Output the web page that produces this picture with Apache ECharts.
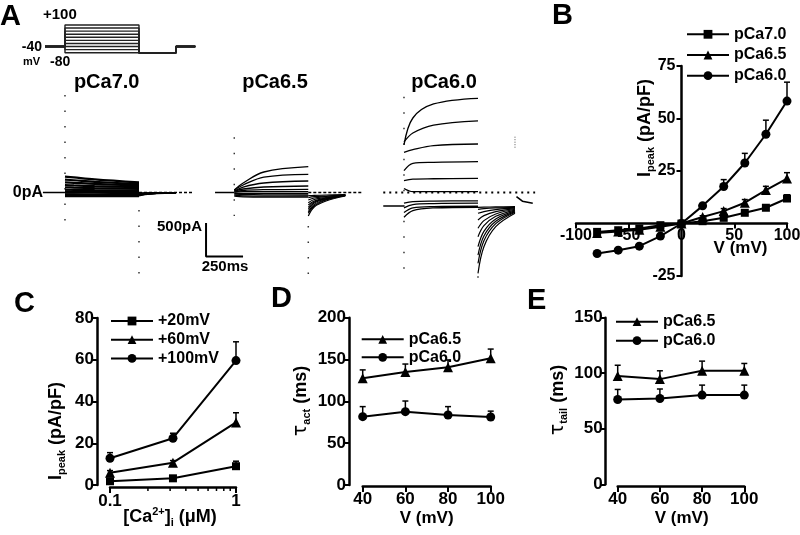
<!DOCTYPE html>
<html><head><meta charset="utf-8">
<script src="https://cdn.jsdelivr.net/npm/echarts@6/dist/echarts.min.js"></script>
<style>html,body{margin:0;padding:0;background:#fff}#c{width:800px;height:535px}</style>
</head><body><div id="c"></div>
<script>
// ---------- Panel A: voltage protocol ----------
const protocolLevels = [-80,-60,-40,-20,0,20,40,60,80,100];
const protocolTimes = [-135, 0, 500, 750, 880];
const holdingMv = -40, tailMv = -80;

// ---------- Panel A: current traces (pA) ----------
const traceStepTimes = [0, 60, 200, 500];
const traceTailTimes = [500, 540, 620, 750];
// rows: -80 ... +100 mV
const pCa70Step = [[-55,-55,-55,-55],[-28,-27,-26,-25],[-2,-1,0,0],[18,16,13,10],[42,40,35,30],
  [78,74,66,55],[112,106,95,80],[152,145,128,105],[192,183,160,125],[238,225,195,150]];
const pCa70Tail = [[-8,-6,-5,-4],[-12,-9,-6,-4],[-15,-11,-7,-4],[-20,-14,-9,-5],[-25,-17,-10,-5],
  [-30,-20,-12,-6],[-35,-23,-13,-6],[-40,-26,-14,-7],[-45,-29,-15,-7],[-50,-32,-16,-8]];
const pCa65Step = [[-55,-65,-70,-70],[-40,-50,-55,-55],[-25,-30,-35,-37],[-12,-12,-12,-12],[7,12,12,12],
  [7,30,42,48],[22,52,82,97],[22,82,142,172],[37,112,231,272],[37,142,306,385]];
const pCa65Tail = [[-48,-42,-37,-33],[-78,-63,-52,-37],[-112,-82,-60,-37],[-152,-104,-75,-37],[-187,-127,-82,-37],
  [-221,-142,-90,-40],[-251,-157,-97,-42],[-287,-179,-104,-45],[-310,-197,-112,-48],[-351,-216,-127,-52]];
const pCa60Step = [[-370,-270,-230,-220],[-300,-230,-210,-205],[-230,-180,-165,-160],[-160,-135,-128,-125],[60,12,12,12],
  [176,200,205,212],[325,436,450,460],[600,640,700,724],[754,888,1007,1070],[709,1112,1321,1406]];
const pCa60Tail = [[-221,-218,-215,-212],[-251,-240,-230,-222],[-310,-285,-255,-230],[-410,-345,-285,-240],[-534,-420,-320,-250],
  [-660,-495,-355,-262],[-809,-580,-395,-275],[-933,-650,-430,-285],[-1057,-720,-465,-295],[-1206,-810,-510,-310]];
const pCa70Hold = 0, pCa65Hold = 0, pCa60Hold = -201;
const pCa60AfterT = [760, 800, 870], pCa60AfterI = [-60, -130, -160];
const scaleBarT = [953, 1203], scaleBarI = [-455, -955];

// ---------- Panel B: I-V ----------
const ivVoltage = [-80,-60,-40,-20,0,20,40,60,80,100];
const ivPCa70 = [-4,-3.2,-2.4,-0.8,0,1.1,2.7,5.1,7.5,11.9];
const ivPCa65 = [-4.5,-3.8,-3,-1.5,0,3.1,5.9,9.9,15.9,21.4];
const ivPCa60 = [-14.3,-12.7,-10.8,-6,0,8.4,17.6,28.8,42.5,58.3];
const ivErr70 = [0.5,0.5,0.4,0.3,0,0.4,0.6,1,1.3,1.8];
const ivErr65 = [0.6,0.6,0.5,0.4,0,0.6,1.2,1.5,1.8,2.8];
const ivErr60 = [1.2,1.2,1.1,1,0,1.2,3.3,4.6,6.7,9];

// ---------- Panel C ----------
const caConc = [0.1, 0.316, 1];
const ca20mV = [1.8, 3.2, 9], ca20Err = [1, 0.8, 2.4];
const ca60mV = [5.9, 10.7, 30], ca60Err = [1, 1, 4.6];
const ca100mV = [12.8, 22.4, 59.6], ca100Err = [2.7, 2.4, 9];
const caMinorTicks = [0.2,0.3,0.4,0.5,0.6,0.7,0.8,0.9];

// ---------- Panels D, E ----------
const tauV = [40, 60, 80, 100];
const tauAct65 = [127.6,135,140.8,151.5], tauAct65Err = [10,9.6,8.7,11];
const tauAct60 = [81.7,87.7,83.7,81.3], tauAct60Err = [12,12.7,10,7];
const tauTail65 = [97.4,94.7,102.2,102.2], tauTail65Err = [9.8,7.5,8.7,6.6];
const tauTail60 = [76.4,77.3,80.3,80.3], tauTail60Err = [9,8.5,9,9];

// ================= build =================
const FONT = '"Liberation Sans", Arial, sans-serif';
const K = '#000';
const series = [];
const grids = [
  {left:41.3, top:21.9, width:208.7, height:33.9},   // 0 protocol
  {left:41.3, top:58.5, width:208.7, height:234.5},  // 1 pCa7.0
  {left:210.6, top:58.5, width:156.9, height:234.5}, // 2 pCa6.5
  {left:380.3, top:58.5, width:156.9, height:234.5}, // 3 pCa6.0
  {left:576, top:66, width:211, height:210},         // 4 B
  {left:110, top:318, width:126, height:167},        // 5 C
  {left:362.7, top:317.7, width:128, height:167.3},  // 6 D
  {left:617.7, top:317.7, width:126.6, height:166.6} // 7 E
].map(g => Object.assign({outerBoundsMode:'none', containLabel:false}, g));

const xAxes = [], yAxes = [];
const hidden = (gi, min, max) => ({gridIndex:gi, type:'value', show:false, min, max});
xAxes.push(hidden(0,-160,1250)); yAxes.push(hidden(0,-100,120));
xAxes.push(hidden(1,-160,1250)); yAxes.push(hidden(1,-1500,2000));
xAxes.push(hidden(2,-160,900));  yAxes.push(hidden(2,-1500,2000));
xAxes.push(hidden(3,-160,900));  yAxes.push(hidden(3,-1500,2000));

const lblStyle = (size, margin) => ({color:K, fontSize:size, fontWeight:'bold', fontFamily:FONT, margin});
const axLine = () => ({show:true, onZero:false, lineStyle:{color:K, width:2.5}});
const axTick = (len) => ({show:true, length:len, lineStyle:{color:K, width:2}});

// B: axes cross at zero (placed with offsets derived from the axis ranges)
const bX = [-100, 100], bY = [-25, 75];
const gB = grids[4];
const bXOffset = -gB.height * (0 - bY[0]) / (bY[1] - bY[0]);
const bYOffset = -gB.width * (0 - bX[0]) / (bX[1] - bX[0]);
xAxes.push({gridIndex:4, type:'value', min:bX[0], max:bX[1], interval:50, offset:bXOffset, axisLine:axLine(),
  axisTick:axTick(5), axisLabel:lblStyle(16,4), splitLine:{show:false}});
yAxes.push({gridIndex:4, type:'value', min:bY[0], max:bY[1], interval:25, offset:bYOffset, axisLine:axLine(),
  axisTick:axTick(5), axisLabel:Object.assign(lblStyle(16,6), {formatter:v => v === 0 ? '' : String(v)}), splitLine:{show:false}});
// C
xAxes.push({gridIndex:5, type:'log', logBase:10, min:0.1, max:1, offset:2, axisLine:axLine(),
  axisTick:axTick(6), axisLabel:Object.assign(lblStyle(17,6), {formatter:v => String(v)}), splitLine:{show:false}, minorTick:{show:false}});
yAxes.push({gridIndex:5, type:'value', min:0, max:80, interval:20, offset:13, axisLine:axLine(),
  axisTick:axTick(5), axisLabel:lblStyle(17,3), splitLine:{show:false}});
// D
xAxes.push({gridIndex:6, type:'value', min:40, max:100, interval:20, offset:1, axisLine:axLine(),
  axisTick:axTick(6), axisLabel:lblStyle(17,5), splitLine:{show:false}});
yAxes.push({gridIndex:6, type:'value', min:0, max:200, interval:50, offset:13.7, axisLine:axLine(),
  axisTick:axTick(5), axisLabel:lblStyle(17,3), splitLine:{show:false}});
// E
xAxes.push({gridIndex:7, type:'value', min:40, max:100, interval:20, offset:1.7, axisLine:axLine(),
  axisTick:axTick(6), axisLabel:lblStyle(17,5), splitLine:{show:false}});
yAxes.push({gridIndex:7, type:'value', min:0, max:150, interval:50, offset:12, axisLine:axLine(),
  axisTick:axTick(5), axisLabel:lblStyle(17,3), splitLine:{show:false}});

// --- protocol
protocolLevels.forEach(v => {
  const [t0, t1, t2, t3, t4] = protocolTimes;
  series.push({type:'line', xAxisIndex:0, yAxisIndex:0, silent:true, showSymbol:false, symbol:'none',
    lineStyle:{color:'#222', width:1.4},
    data:[[t0,holdingMv],[t1,holdingMv],[t1,v],[t2,v],[t2,tailMv],[t3,tailMv],[t3,holdingMv],[t4,holdingMv]]});
});

// --- traces
function plainLine(gi, data, width, dash, color) {
  series.push({type:'line', xAxisIndex:gi, yAxisIndex:gi, silent:true, symbol:'none', z:2,
    lineStyle:{color:color||K, width:width, type:dash||'solid'}, data});
}
function traceSet(gi, steps, tails, width) {
  steps.forEach((row, i) => {
    series.push({type:'line', xAxisIndex:gi, yAxisIndex:gi, silent:true, symbol:'none', smooth:0.35,
      lineStyle:{color:K, width}, data: traceStepTimes.map((t, j) => [t, row[j]])});
    series.push({type:'line', xAxisIndex:gi, yAxisIndex:gi, silent:true, symbol:'none', smooth:0.35,
      lineStyle:{color:K, width:1.2}, data: traceTailTimes.map((t, j) => [t, tails[i][j]])});
  });
}
traceSet(1, pCa70Step, pCa70Tail, 2.2);
traceSet(2, pCa65Step, pCa65Tail, 1.3);
traceSet(3, pCa60Step, pCa60Tail, 1.3);
// baselines
plainLine(1, [[-149,pCa70Hold],[0,pCa70Hold]], 1.6);
plainLine(1, [[500,pCa70Hold],[870,pCa70Hold]], 1.6, [3,2]);
plainLine(2, [[-130,pCa65Hold],[0,pCa65Hold]], 1.6);
plainLine(2, [[500,pCa65Hold],[870,pCa65Hold]], 1.6, [3,2]);
plainLine(3, [[-140,pCa60Hold],[0,pCa60Hold]], 1.6);
plainLine(3, [[-140,0],[886,0]], 2, [2,4]);
plainLine(3, pCa60AfterT.map((t,i)=>[t,pCa60AfterI[i]]), 1.6);
// sparse dotted verticals at step on/off
const sparse = [1.5, 14];
plainLine(1, [[0,1455],[0,-470]], 1.5, sparse, '#333');
plainLine(1, [[500,-260],[500,-1350]], 1.5, sparse, '#333');
plainLine(2, [[0,824],[0,-350]], 1.5, sparse, '#333');
plainLine(2, [[500,-500],[500,-1350]], 1.5, sparse, '#333');
plainLine(3, [[0,1430],[0,-1255]], 1.5, sparse, '#333');
plainLine(3, [[500,-1250],[500,-1380]], 1.5, sparse, '#333');
plainLine(3, [[750,833],[750,660]], 1, [1,1.5], '#555');
// scale bar
plainLine(1, [[scaleBarT[0],scaleBarI[0]],[scaleBarT[0],scaleBarI[1]],[scaleBarT[1],scaleBarI[1]]], 2);

// --- marker series helper
const SYM = {sq:['rect',8], tri:['triangle',10], ci:['circle',9]};
function markerLine(gi, name, xs, ys, sym) {
  series.push({type:'line', name, xAxisIndex:gi, yAxisIndex:gi, silent:true, z:4,
    symbol:SYM[sym][0], symbolSize:SYM[sym][1], showSymbol:true,
    itemStyle:{color:K, borderWidth:0}, lineStyle:{color:K, width:2},
    data: xs.map((x,i)=>[x, ys[i]])});
}
function errBars(gi, xs, ys, es) {
  series.push({type:'custom', xAxisIndex:gi, yAxisIndex:gi, silent:true, z:3, clip:false,
    encode:{x:0, y:1}, data: xs.map((x,i)=>[x, ys[i], es[i]]),
    renderItem: (p, api) => {
      const x = api.value(0), y = api.value(1), e = api.value(2);
      if (!e) return null;
      const d = y < 0 ? -1 : 1;
      const a = api.coord([x, y]), b = api.coord([x, y + d*e]);
      const st = {stroke:K, lineWidth:1.5};
      return {type:'group', children:[
        {type:'line', shape:{x1:a[0], y1:a[1], x2:b[0], y2:b[1]}, style:st},
        {type:'line', shape:{x1:b[0]-3, y1:b[1], x2:b[0]+3, y2:b[1]}, style:st}]};
    }});
}
// B
errBars(4, ivVoltage, ivPCa70, ivErr70);
errBars(4, ivVoltage, ivPCa65, ivErr65);
errBars(4, ivVoltage, ivPCa60, ivErr60);
markerLine(4, 'pCa7.0', ivVoltage, ivPCa70, 'sq');
markerLine(4, 'pCa6.5', ivVoltage, ivPCa65, 'tri');
markerLine(4, 'pCa6.0', ivVoltage, ivPCa60, 'ci');
// C
errBars(5, caConc, ca20mV, ca20Err);
errBars(5, caConc, ca60mV, ca60Err);
errBars(5, caConc, ca100mV, ca100Err);
markerLine(5, '+20mV', caConc, ca20mV, 'sq');
markerLine(5, '+60mV', caConc, ca60mV, 'tri');
markerLine(5, '+100mV', caConc, ca100mV, 'ci');
series.push({type:'custom', xAxisIndex:5, yAxisIndex:5, silent:true, clip:false, encode:{x:0, y:1},
  data: caMinorTicks.map(v => [v, 0]),
  renderItem: (p, api) => {
    const c = api.coord([api.value(0), 0]);
    return {type:'line', shape:{x1:c[0], y1:c[1]+2, x2:c[0], y2:c[1]+6}, style:{stroke:K, lineWidth:1.5}};
  }});
// D
errBars(6, tauV, tauAct65, tauAct65Err);
errBars(6, tauV, tauAct60, tauAct60Err);
markerLine(6, 'pCa6.5', tauV, tauAct65, 'tri');
markerLine(6, 'pCa6.0', tauV, tauAct60, 'ci');
// E
errBars(7, tauV, tauTail65, tauTail65Err);
errBars(7, tauV, tauTail60, tauTail60Err);
markerLine(7, 'pCa6.5', tauV, tauTail65, 'tri');
markerLine(7, 'pCa6.0', tauV, tauTail60, 'ci');

// --- legends
const legTxt = {color:K, fontSize:16, fontWeight:'bold', fontFamily:FONT, lineHeight:16};
const leg = (names, left, top, gap) => ({data:names, left, top, orient:'vertical', padding:0,
  itemWidth:42, itemHeight:11, itemGap:gap, selectedMode:false, textStyle:legTxt});
const legends = [
  leg(['pCa7.0','pCa6.5','pCa6.0'], 686, 26.3, 4.7),
  leg(['+20mV','+60mV','+100mV'], 110, 313, 2.7),
  leg(['pCa6.5','pCa6.0'], 360.7, 331.3, 2),
  leg(['pCa6.5','pCa6.0'], 615, 313.7, 3)
];

// --- texts
function txt(text, x, y, size, o) {
  o = o || {};
  return {type:'text', x, y, rotation:o.rot||0, silent:true, z:10,
    style:{text, fill:K, font:(o.weight||'bold')+' '+size+'px '+FONT,
      align:o.align||'center', verticalAlign:'middle', rich:o.rich}};
}
const rm = (fs) => ({fontSize:fs, fontWeight:'bold', fontFamily:FONT, color:K, lineHeight:22, verticalAlign:'middle'});
const rsub = {fontSize:11, fontWeight:'bold', fontFamily:FONT, color:K, lineHeight:11, verticalAlign:'bottom'};
const rsup = {fontSize:11, fontWeight:'bold', fontFamily:FONT, color:K, lineHeight:11, verticalAlign:'top'};
const rtau = {fontSize:19, fontWeight:'normal', fontFamily:'"DejaVu Sans", sans-serif', color:K, lineHeight:22, verticalAlign:'middle'};
const yNameRich = {m:rm(18), s:rsub, t:rtau};
const graphics = [
  txt('A', 0, 17, 29, {align:'left'}),
  txt('B', 552, 16, 29, {align:'left'}),
  txt('C', 14, 304, 29, {align:'left'}),
  txt('D', 271, 299, 29, {align:'left'}),
  txt('E', 527, 301, 29, {align:'left'}),
  txt('+100', 43, 15, 15, {align:'left'}),
  txt('-40', 42, 47, 14, {align:'right'}),
  txt('mV', 23, 62, 11, {align:'left'}),
  txt('-80', 50, 62, 14, {align:'left'}),
  txt('pCa7.0', 106.7, 82, 20),
  txt('pCa6.5', 275, 82, 20),
  txt('pCa6.0', 444, 82, 20),
  txt('0pA', 43, 192.5, 16, {align:'right'}),
  txt('500pA', 202, 227, 15, {align:'right'}),
  txt('250ms', 225, 267, 15),
  txt('V (mV)', 740.5, 248, 17),
  txt('V (mV)', 426.7, 518, 17),
  txt('V (mV)', 681.7, 518, 17),
  txt('{m|I}{s|peak}{m| (pA/pF)}', 645, 128, 18, {rot:Math.PI/2, rich:yNameRich}),
  txt('{m|I}{s|peak}{m| (pA/pF)}', 56, 431, 18, {rot:Math.PI/2, rich:yNameRich}),
  txt('{t|τ}{s|act}{m| (ms)}', 301.5, 401, 18, {rot:Math.PI/2, rich:yNameRich}),
  txt('{t|τ}{s|tail}{m| (ms)}', 558, 400, 18, {rot:Math.PI/2, rich:yNameRich}),
  txt('{m|[Ca}{p|2+}{m|]}{s|i}{m| (μM)}', 170, 517, 18, {rich:{m:rm(18), s:rsub, p:rsup}})
];

const chart = echarts.init(document.getElementById('c'), null, {renderer:'canvas'});
chart.setOption({
  animation:false, backgroundColor:'#fff',
  grid:grids, xAxis:xAxes, yAxis:yAxes, legend:legends, series, graphic:graphics
});
</script></body></html>
